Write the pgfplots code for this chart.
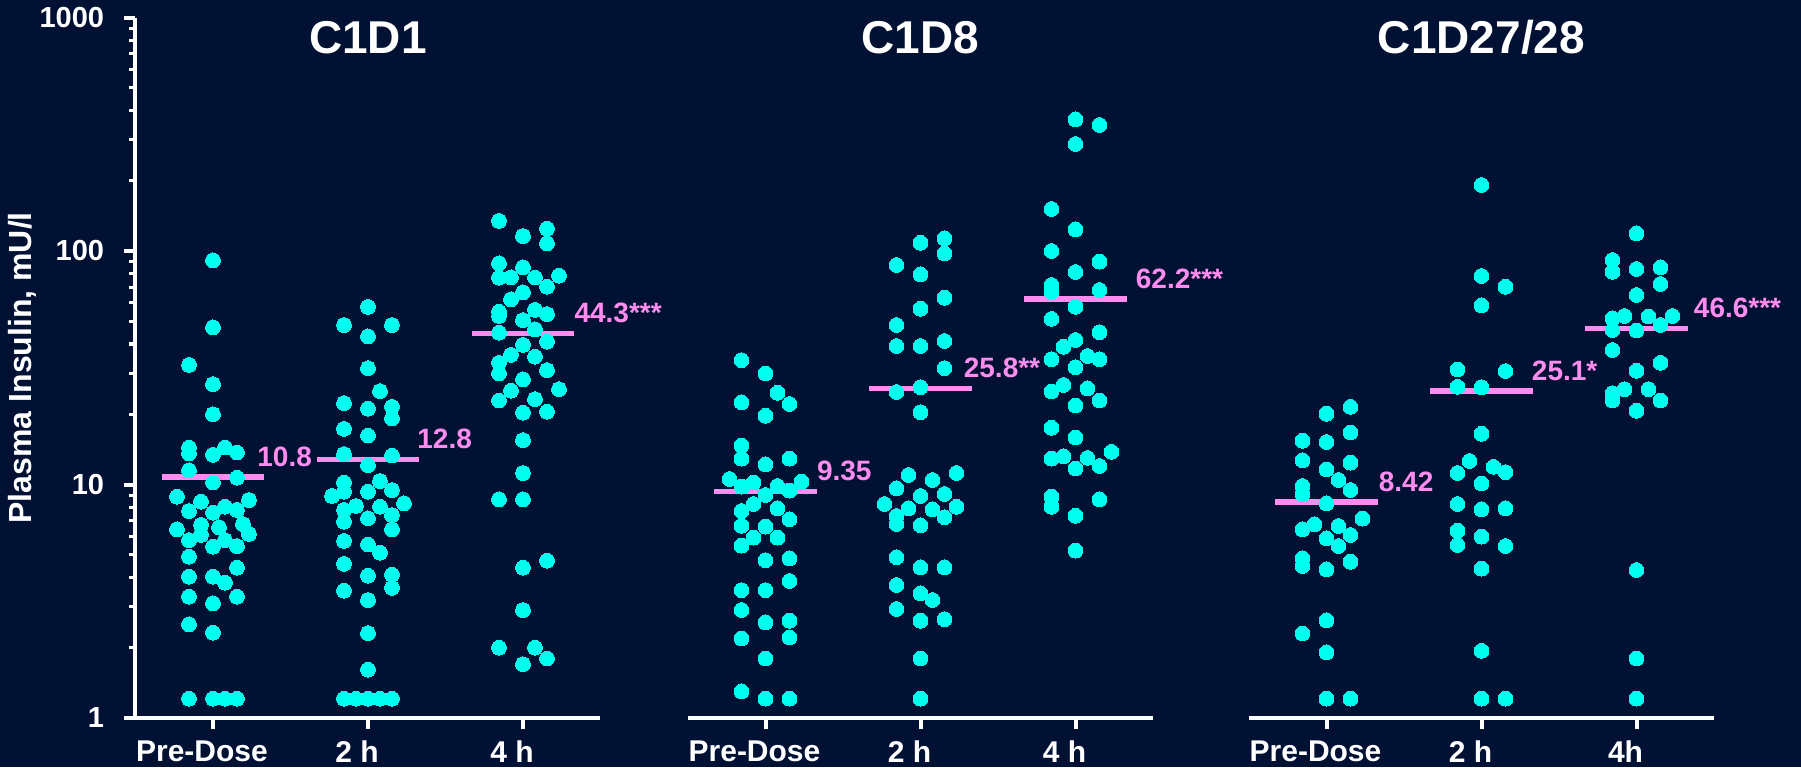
\documentclass[border=0pt]{standalone}
\usepackage{pgfplots}
\pgfplotsset{compat=1.18}
\usepackage{fontspec}
\setmainfont{Liberation Sans}
\definecolor{bg}{RGB}{0,17,51}
\definecolor{dot}{RGB}{0,255,238}
\definecolor{med}{RGB}{255,140,238}
\pgfplotsset{
  cdots/.style={only marks, mark=*, mark size=3.7pt, mark options={fill=dot, draw=dot, line width=0pt}},
  mline/.style={med, line width=2.8pt, forget plot},
}
\tikzset{
  medlab/.style={anchor=base west, text=med, font=\bfseries\fontsize{14}{14}\selectfont, inner sep=0pt, yshift=5.3pt},
  ttl/.style={anchor=base, text=white, font=\bfseries\fontsize{23}{23}\selectfont, inner sep=0pt},
}
\begin{document}
\begin{tikzpicture}
\path[use as bounding box, fill=bg] (0,0) rectangle (900.5pt,383.5pt);

% ---------------- C1D1 ----------------
\begin{axis}[
  scale only axis, width=232.5pt, height=350.25pt,
  anchor=south west, at={(67.75pt,24.5pt)},
  xmin=-0.5, xmax=2.5, ymode=log, ymin=1, ymax=1000,
  axis x line=bottom, axis y line=left,
  axis line style={white, line width=2pt, -},
  xtick={0,1,2}, xticklabels={Pre-Dose,2 h,4 h},
  tick align=outside,
  major tick length=5.5pt, minor tick length=3pt,
  tick style={white, line width=2pt},
  minor tick style={white, line width=1.6pt},
  xticklabel style={font=\bfseries\fontsize{15}{15}\selectfont, text=white, anchor=north, inner sep=0pt, yshift=-5.5pt, xshift=-5.5pt},
  clip=false,
  ytick={1,10,100,1000}, yticklabels={1,10,100,1000},
  minor ytick={2,3,4,5,6,7,8,9,20,30,40,50,60,70,80,90,200,300,400,500,600,700,800,900},
  yticklabel style={font=\bfseries\fontsize{14.5}{14.5}\selectfont, text=white, anchor=east, inner sep=0pt, xshift=-10pt},
  ylabel={Plasma Insulin, mU/l},
  ylabel style={at={(axis description cs:-0.244,0.5)}, anchor=center, font=\bfseries\fontsize{16}{16}\selectfont, text=white},
]
\addplot[cdots] table[x expr=\thisrow{k}*0.0774, y=v] {
k v
0 91.2
0 47.1
-2 32.5
0 26.9
0 20.0
-2 14.4
-2 13.6
0 13.4
1 14.4
2 13.7
-2 11.5
2 10.7
0 10.2
-3 8.87
-1 8.44
3 8.58
1 8.03
-2 7.70
0 7.57
2 7.78
-1 6.71
0.5 6.56
2.5 6.77
-3 6.43
-1 6.08
3 6.14
-2 5.78
0 5.42
1 5.78
2 5.45
-2 4.91
2 4.40
-2 4.03
0 4.03
1 3.80
-2 3.31
2 3.31
0 3.10
-2 2.52
0 2.32
-2 1.21
0 1.21
1 1.21
2 1.21
};
\addplot[cdots] table[x expr=\thisrow{k}*0.0774+1, y=v] {
k v
0 57.6
-2 48.2
2 48.2
0 43.1
0 31.5
1 25.1
-2 22.3
0 21.1
2 21.5
2 19.2
-2 17.3
0 16.2
-2 13.5
2 13.3
0 12.1
-2 10.2
1 10.35
-3 8.93
-2 9.32
0 9.32
2 9.47
3 8.31
-2 7.78
-1 8.09
1 8.03
0 7.17
2 7.40
-2 6.93
2 6.43
-2 5.73
0 5.54
1 5.10
-2 4.57
0 4.07
2 4.11
2 3.61
-2 3.51
0 3.20
0 2.31
0 1.61
-2 1.21
-1 1.21
0 1.21
1 1.21
2 1.21
};
\addplot[cdots] table[x expr=\thisrow{k}*0.0774+2, y=v] {
k v
-2 134.5
2 124.6
0 115.9
2 107.9
-2 88.6
0 85.1
-2 76.9
-1 77.2
1 77.0
3 78.4
2 70.3
0 66.5
-1 62.1
-2 55.0
1 55.9
2 53.7
0 50.6
-2 52.7
-2 44.7
1 46.2
2 40.9
0 39.6
-1 35.9
1 35.3
-2 33.2
-2 29.9
2 30.9
0 28.2
-1 25.2
3 25.6
-2 22.9
1 23.2
0 20.3
2 20.5
0 15.5
0 11.2
-2 8.64
0 8.64
2 4.72
0 4.40
0 2.90
-2 2.00
1 2.00
0 1.70
2 1.80
};
\addplot[mline] coordinates {(-0.33,10.8) (0.33,10.8)};
\addplot[mline] coordinates {(0.67,12.8) (1.33,12.8)};
\addplot[mline] coordinates {(1.67,44.3) (2.33,44.3)};
\node[medlab] at (axis cs:0.284,10.8) {10.8};
\node[medlab] at (axis cs:1.316,12.8) {12.8};
\node[medlab] at (axis cs:2.33,44.3) {44.3***};
\node[ttl] at (axis cs:1,698) {C1D1};
\end{axis}

% ---------------- C1D8 ----------------
\begin{axis}[
  scale only axis, width=232.5pt, height=350.25pt,
  anchor=south west, at={(344pt,24.5pt)},
  xmin=-0.5, xmax=2.5, ymode=log, ymin=1, ymax=1000,
  axis x line=bottom, axis y line=none,
  ymajorticks=false, yminorticks=false,
  axis line style={white, line width=2pt, -},
  xtick={0,1,2}, xticklabels={Pre-Dose,2 h,4 h},
  tick align=outside,
  major tick length=5.5pt, minor tick length=3pt,
  tick style={white, line width=2pt},
  xticklabel style={font=\bfseries\fontsize{15}{15}\selectfont, text=white, anchor=north, inner sep=0pt, yshift=-5.5pt, xshift=-5.5pt},
  clip=false,
]
\addplot[cdots] table[x expr=\thisrow{k}*0.0774, y=v] {
k v
-2 34.1
0 29.9
1 24.7
-2 22.5
2 22.1
0 19.7
-2 14.7
-2 12.9
0 12.2
2 12.9
-3 10.56
-1 10.2
-2 9.79
1 9.85
3 10.28
2 9.41
0 9.02
-1 8.25
-2 7.70
1 7.91
2 7.10
-2 6.66
0 6.60
-1 5.92
1 5.92
-2 5.47
0 4.74
2 4.83
2 3.86
-2 3.53
0 3.53
-2 2.90
0 2.57
2 2.61
-2 2.19
2 2.21
0 1.80
-2 1.30
0 1.21
2 1.21
};
\addplot[cdots] table[x expr=\thisrow{k}*0.0774+1, y=v] {
k v
2 113.3
0 108.5
2 97.7
-2 87.1
0 79.5
2 63.1
0 56.6
-2 48.2
-2 39.2
0 39.2
2 41.2
2 31.5
-2 24.9
0 26.1
0 20.4
-1 10.98
1 10.45
3 11.2
-2 9.63
0 8.93
2 9.11
-3 8.25
-1 7.91
1 7.83
3 8.03
-2 7.33
-2 6.77
0 6.69
2 7.24
-2 4.88
0 4.42
2 4.42
-2 3.71
0 3.42
1 3.20
-2 2.93
0 2.61
2 2.65
0 1.80
0 1.21
};
\addplot[cdots] table[x expr=\thisrow{k}*0.0774+2, y=v] {
k v
0 366.5
2 346.5
0 287.2
-2 151.3
0 123.8
-2 100.0
2 90.0
0 81.3
-2 71.5
-2 66.9
2 68.1
0 57.7
-2 51.2
2 44.9
-1 38.9
0 41.6
-2 34.4
1 35.5
2 34.4
0 31.8
-2 25.0
-1 26.7
1 25.8
0 21.8
2 22.9
-2 17.5
0 15.9
-2 12.9
-1 13.2
1 13.0
3 13.8
0 11.7
2 12.0
-2 8.87
-2 8.03
2 8.64
0 7.35
0 5.21
};
\addplot[mline] coordinates {(-0.33,9.35) (0.33,9.35)};
\addplot[mline] coordinates {(0.67,25.8) (1.33,25.8)};
\addplot[mline] coordinates {(1.67,62.2) (2.33,62.2)};
\node[medlab] at (axis cs:0.33,9.35) {9.35};
\node[medlab] at (axis cs:1.277,25.8) {25.8**};
\node[medlab] at (axis cs:2.387,62.2) {62.2***};
\node[ttl] at (axis cs:1,698) {C1D8};
\end{axis}

% ---------------- C1D27/28 ----------------
\begin{axis}[
  scale only axis, width=232.5pt, height=350.25pt,
  anchor=south west, at={(624.5pt,24.5pt)},
  xmin=-0.5, xmax=2.5, ymode=log, ymin=1, ymax=1000,
  axis x line=bottom, axis y line=none,
  ymajorticks=false, yminorticks=false,
  axis line style={white, line width=2pt, -},
  xtick={0,1,2}, xticklabels={Pre-Dose,2 h,4h},
  tick align=outside,
  major tick length=5.5pt, minor tick length=3pt,
  tick style={white, line width=2pt},
  xticklabel style={font=\bfseries\fontsize{15}{15}\selectfont, text=white, anchor=north, inner sep=0pt, yshift=-5.5pt, xshift=-5.5pt},
  clip=false,
]
\addplot[cdots] table[x expr=\thisrow{k}*0.0774, y=v] {
k v
2 21.5
0 20.1
-2 15.4
0 15.2
2 16.7
-2 12.7
0 11.6
2 12.4
1 10.45
2 9.47
-2 9.85
-2 9.11
0 8.31
3 7.14
-2 6.43
-1 6.75
1 6.64
2 6.08
0 5.88
1 5.45
-2 4.83
-2 4.48
0 4.33
2 4.67
0 2.62
-2 2.30
0 1.91
0 1.21
2 1.21
};
\addplot[cdots] table[x expr=\thisrow{k}*0.0774+1, y=v] {
k v
0 191.7
0 78.2
2 70.3
0 58.5
-2 31.1
2 30.6
-2 26.2
0 26.1
0 16.5
-1 12.6
1 11.9
2 11.3
-2 11.2
0 10.1
-2 8.25
0 7.83
2 7.91
-2 6.34
-2 5.51
0 5.98
2 5.45
0 4.36
0 1.94
0 1.21
2 1.21
};
\addplot[cdots] table[x expr=\thisrow{k}*0.0774+2, y=v] {
k v
0 119.1
-2 91.5
-2 81.5
0 83.7
2 85.1
2 72.2
0 64.8
-2 51.5
-1 52.7
1 52.4
3 52.7
-2 45.9
0 45.7
2 48.2
-2 37.7
2 33.2
0 30.7
-1 25.6
-2 24.6
-2 22.9
1 25.6
2 22.9
0 20.7
0 4.30
0 1.80
0 1.21
};
\addplot[mline] coordinates {(-0.33,8.42) (0.33,8.42)};
\addplot[mline] coordinates {(0.67,25.1) (1.33,25.1)};
\addplot[mline] coordinates {(1.67,46.6) (2.33,46.6)};
\node[medlab] at (axis cs:0.335,8.42) {8.42};
\node[medlab] at (axis cs:1.323,25.1) {25.1*};
\node[medlab] at (axis cs:2.368,46.6) {46.6***};
\node[ttl] at (axis cs:1,698) {C1D27/28};
\end{axis}
\end{tikzpicture}
\end{document}
